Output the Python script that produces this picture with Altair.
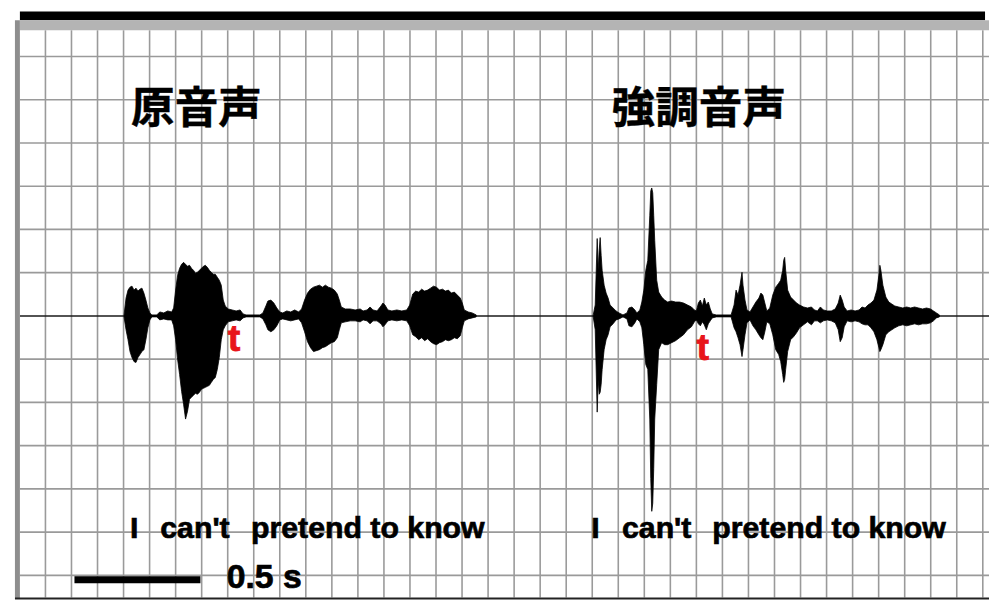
import altair as alt
import numpy as np
import pandas as pd

# ---------------- data ----------------
# time in ms, envelope amplitude (arbitrary units, 0 = silence)
wf1_t = [422, 430, 438, 446, 454, 462, 470, 478, 486, 494, 502, 510, 518, 526, 534, 554, 566, 582, 598, 614,
         622, 630, 638, 646, 654, 662, 670, 678, 686, 694, 702, 710, 718, 726, 734, 742, 750, 758, 766, 774,
         782, 790, 798, 806, 814, 822, 830, 842, 858, 874, 890, 902, 914, 970, 982, 994, 1002, 1014, 1026, 1038,
         1050, 1062, 1078, 1094, 1110, 1126, 1138, 1150, 1162, 1174, 1186, 1198, 1210, 1222, 1234, 1246, 1258, 1270, 1282, 1290,
         1298, 1314, 1334, 1354, 1374, 1386, 1402, 1414, 1426, 1442, 1458, 1466, 1474, 1486, 1502, 1522, 1542, 1562, 1574, 1586,
         1598, 1610, 1622, 1634, 1646, 1658, 1670, 1682, 1694, 1706, 1718, 1730, 1742, 1754, 1766, 1778, 1786, 1794, 1810, 1826,
         1842]
wf1_top = [1, 18, 26, 29, 30, 26, 28, 25, 27, 28, 23, 16, 8, 3, 1, 1, 4, 3, 5, 4,
           8, 26, 41, 48, 52, 54, 52, 50, 51, 48, 46, 43, 44, 46, 48, 50, 51, 49, 46, 44,
           42, 42, 39, 36, 31, 16, 10, 7, 6, 5, 6, 2, 1, 1, 3, 10, 15, 16, 13, 8,
           4, 3, 5, 4, 6, 4, 7, 16, 23, 27, 29, 30, 31, 29, 31, 29, 28, 26, 22, 16,
           9, 7, 7, 6, 7, 5, 6, 9, 6, 5, 10, 13, 11, 6, 5, 6, 5, 6, 11, 22,
           25, 24, 27, 25, 26, 28, 30, 29, 26, 27, 25, 26, 23, 24, 21, 18, 13, 6, 4, 3,
           1]
wf1_bot = [-1, -14, -24, -36, -42, -46, -47, -42, -39, -36, -34, -24, -12, -4, -1, -1, -4, -3, -4, -4,
           -10, -24, -44, -59, -76, -89, -104, -96, -84, -82, -80, -78, -79, -77, -74, -73, -72, -71, -70, -67,
           -64, -62, -54, -42, -24, -14, -10, -6, -5, -4, -5, -2, -1, -1, -3, -9, -14, -16, -14, -10,
           -4, -3, -4, -5, -4, -3, -7, -16, -26, -32, -36, -35, -34, -32, -31, -29, -27, -26, -22, -14,
           -7, -6, -5, -5, -6, -4, -5, -8, -5, -5, -8, -11, -9, -5, -4, -5, -4, -5, -10, -19,
           -21, -24, -22, -25, -23, -26, -28, -29, -27, -26, -24, -25, -24, -22, -23, -20, -12, -5, -3, -2,
           -1]

wf2_t = [2314, 2322, 2330, 2334, 2338, 2342, 2346, 2350, 2358, 2366, 2374, 2382, 2394, 2406, 2418, 2434, 2450, 2458, 2470, 2482,
         2490, 2502, 2510, 2518, 2526, 2534, 2542, 2546, 2550, 2554, 2558, 2562, 2570, 2578, 2590, 2602, 2614, 2630, 2646, 2662,
         2678, 2694, 2710, 2722, 2730, 2738, 2746, 2754, 2762, 2770, 2778, 2786, 2794, 2810, 2870, 2882, 2890, 2898, 2906, 2914,
         2918, 2926, 2934, 2946, 2958, 2970, 2982, 2990, 2998, 3006, 3014, 3026, 3038, 3050, 3062, 3070, 3078, 3082, 3086, 3090,
         3098, 3110, 3122, 3134, 3146, 3162, 3178, 3194, 3206, 3218, 3230, 3242, 3258, 3274, 3290, 3302, 3310, 3318, 3326, 3338,
         3354, 3370, 3386, 3398, 3410, 3422, 3434, 3446, 3458, 3466, 3470, 3474, 3482, 3494, 3506, 3518, 3530, 3546, 3562, 3578,
         3594, 3610, 3626, 3642, 3658, 3674, 3686, 3698, 3710]
wf2_top = [1, 11, 78, 46, 66, 79, 61, 46, 31, 23, 18, 11, 8, 5, 3, 1, 3, 8, 9, 6,
           3, 6, 14, 26, 46, 56, 101, 126, 129, 124, 101, 76, 36, 24, 19, 16, 14, 15, 14, 14,
           13, 11, 9, 6, 5, 13, 16, 10, 18, 11, 14, 7, 2, 1, 1, 11, 26, 21, 31, 44,
           31, 16, 6, 4, 9, 14, 18, 23, 21, 13, 5, 8, 21, 29, 33, 36, 46, 56, 59, 46,
           26, 19, 16, 13, 11, 9, 8, 9, 6, 5, 9, 6, 5, 5, 7, 13, 21, 16, 9, 5,
           6, 5, 6, 9, 8, 11, 13, 16, 26, 41, 51, 46, 31, 19, 14, 12, 10, 9, 8, 9,
           8, 9, 8, 7, 8, 7, 5, 3, 1]
wf2_bot = [-1, -14, -97, -64, -79, -77, -69, -54, -34, -24, -19, -11, -8, -4, -3, -1, -3, -10, -11, -7,
           -3, -6, -12, -29, -49, -54, -104, -164, -197, -189, -154, -104, -69, -34, -27, -29, -29, -27, -25, -22,
           -19, -14, -11, -6, -4, -8, -10, -6, -9, -14, -8, -5, -2, -1, -1, -12, -16, -22, -29, -41,
           -34, -19, -7, -4, -10, -14, -19, -22, -24, -16, -6, -8, -19, -34, -39, -46, -59, -67, -64, -54,
           -36, -24, -21, -17, -12, -9, -6, -9, -5, -5, -7, -5, -4, -5, -7, -14, -26, -22, -11, -5,
           -6, -5, -6, -8, -9, -9, -12, -16, -24, -32, -36, -34, -29, -19, -16, -14, -12, -10, -9, -10,
           -9, -8, -9, -8, -8, -7, -5, -2, -1]

panel_titles = ["原音声", "強調音声"]
panel_title_t = [714, 2740]
panel_title_amp = [207, 207]

words = ["I", "can't", "pretend to know", "I", "can't", "pretend to know"]
word_t = [446, 568, 934, 2306, 2430, 2794]
word_amp = [-224] * 6

marker_text = ["t", "t"]
marker_t = [866, 2756]
marker_amp = [-35, -44]

scalebar_t = [222]
scalebar_t2 = [730]
scalebar_amp = [-266]
scalebar_label = ["0.5 s"]
scalebar_label_t = [836]
scalebar_label_amp = [-274]

# ---------------- scales ----------------
W, H = 989, 594
xs = alt.Scale(domain=[-46, 3910], nice=False, zero=False)
ys = alt.Scale(domain=[-286, 308], nice=False, zero=False)
GRID = "#9a9a9a"

one = pd.DataFrame({"a": [0]})

vgrid = pd.DataFrame({"t": np.arange(1, 38) * 105, "a1": 288, "a2": -284})
hlev = [j * 43.6 for j in range(-6, 7) if j != 0]
hgrid = pd.DataFrame({"amp": hlev, "t1": 2, "t2": 3910})

vrules = alt.Chart(vgrid).mark_rule(color=GRID, strokeWidth=1.6).encode(
    x=alt.X("t:Q", scale=xs, axis=None),
    y=alt.Y("a1:Q", scale=ys, axis=None),
    y2="a2:Q",
)
hrules = alt.Chart(hgrid).mark_rule(color=GRID, strokeWidth=1.6).encode(
    x=alt.X("t1:Q", scale=xs, axis=None),
    x2="t2:Q",
    y=alt.Y("amp:Q", scale=ys, axis=None),
)
center = alt.Chart(pd.DataFrame({"amp": [0], "t1": [2], "t2": [3910]})).mark_rule(
    color="#1a1a1a", strokeWidth=1.5
).encode(
    x=alt.X("t1:Q", scale=xs, axis=None),
    x2="t2:Q",
    y=alt.Y("amp:Q", scale=ys, axis=None),
)


def wave(t, top, bot):
    df = pd.DataFrame({"t": t, "top": top, "bot": bot})
    return alt.Chart(df).mark_area(
        color="black", stroke="black", strokeWidth=0.8, interpolate="linear"
    ).encode(
        x=alt.X("t:Q", scale=xs, axis=None),
        y=alt.Y("top:Q", scale=ys, axis=None),
        y2="bot:Q",
    )


w1 = wave(wf1_t, wf1_top, wf1_bot)
w2 = wave(wf2_t, wf2_top, wf2_bot)

titles = alt.Chart(pd.DataFrame({"t": panel_title_t, "amp": panel_title_amp, "txt": panel_titles})).mark_text(
    font="Noto Sans CJK JP", fontWeight="bold", fontSize=44, color="black", align="center", baseline="middle",
    stroke="black", strokeWidth=0.4,
).encode(
    x=alt.X("t:Q", scale=xs, axis=None),
    y=alt.Y("amp:Q", scale=ys, axis=None),
    text="txt:N",
)

phrase = alt.Chart(pd.DataFrame({"t": word_t, "amp": word_amp, "txt": words})).mark_text(
    font="Liberation Sans", fontWeight="bold", fontSize=30.5, color="black", align="left", baseline="alphabetic",
    stroke="black", strokeWidth=0.7,
).encode(
    x=alt.X("t:Q", scale=xs, axis=None),
    y=alt.Y("amp:Q", scale=ys, axis=None),
    text="txt:N",
)

markers = alt.Chart(pd.DataFrame({"t": marker_t, "amp": marker_amp, "txt": marker_text})).mark_text(
    font="Liberation Sans", fontWeight="bold", fontSize=38, color="#e8141c", align="center", baseline="alphabetic",
    stroke="#e8141c", strokeWidth=0.8,
).encode(
    x=alt.X("t:Q", scale=xs, axis=None),
    y=alt.Y("amp:Q", scale=ys, axis=None),
    text="txt:N",
)

sbar = alt.Chart(pd.DataFrame({"t1": scalebar_t, "t2": scalebar_t2, "amp": scalebar_amp})).mark_rule(
    color="black", strokeWidth=7
).encode(
    x=alt.X("t1:Q", scale=xs, axis=None),
    x2="t2:Q",
    y=alt.Y("amp:Q", scale=ys, axis=None),
)
slabel = alt.Chart(pd.DataFrame({"t": scalebar_label_t, "amp": scalebar_label_amp, "txt": scalebar_label})).mark_text(
    font="Liberation Sans", fontWeight="bold", fontSize=34, color="black", align="left", baseline="alphabetic",
    stroke="black", strokeWidth=0.7,
).encode(
    x=alt.X("t:Q", scale=xs, axis=None),
    y=alt.Y("amp:Q", scale=ys, axis=None),
    text="txt:N",
)

# window frame decorations (pixel positions inside the view)
top_black = alt.Chart(one).mark_rect(color="black").encode(
    x=alt.value(12), x2=alt.value(985), y=alt.value(1), y2=alt.value(10)
)
top_gray = alt.Chart(one).mark_rect(color="#b4b4b4").encode(
    x=alt.value(12), x2=alt.value(989), y=alt.value(10), y2=alt.value(20)
)
left_gray = alt.Chart(one).mark_rect(color="#8e8e8e").encode(
    x=alt.value(7), x2=alt.value(12), y=alt.value(10), y2=alt.value(593)
)
bottom_line = alt.Chart(one).mark_rect(color="#222222").encode(
    x=alt.value(7), x2=alt.value(989), y=alt.value(592), y2=alt.value(594)
)

chart = alt.layer(
    vrules, hrules, center, w1, w2, titles, phrase, markers, sbar, slabel,
    top_black, top_gray, left_gray, bottom_line,
).properties(
    width=W, height=H, padding=0, autosize="none"
).configure_view(stroke=None)

chart.save("out.html", embed_options={"renderer": "svg", "actions": False})
